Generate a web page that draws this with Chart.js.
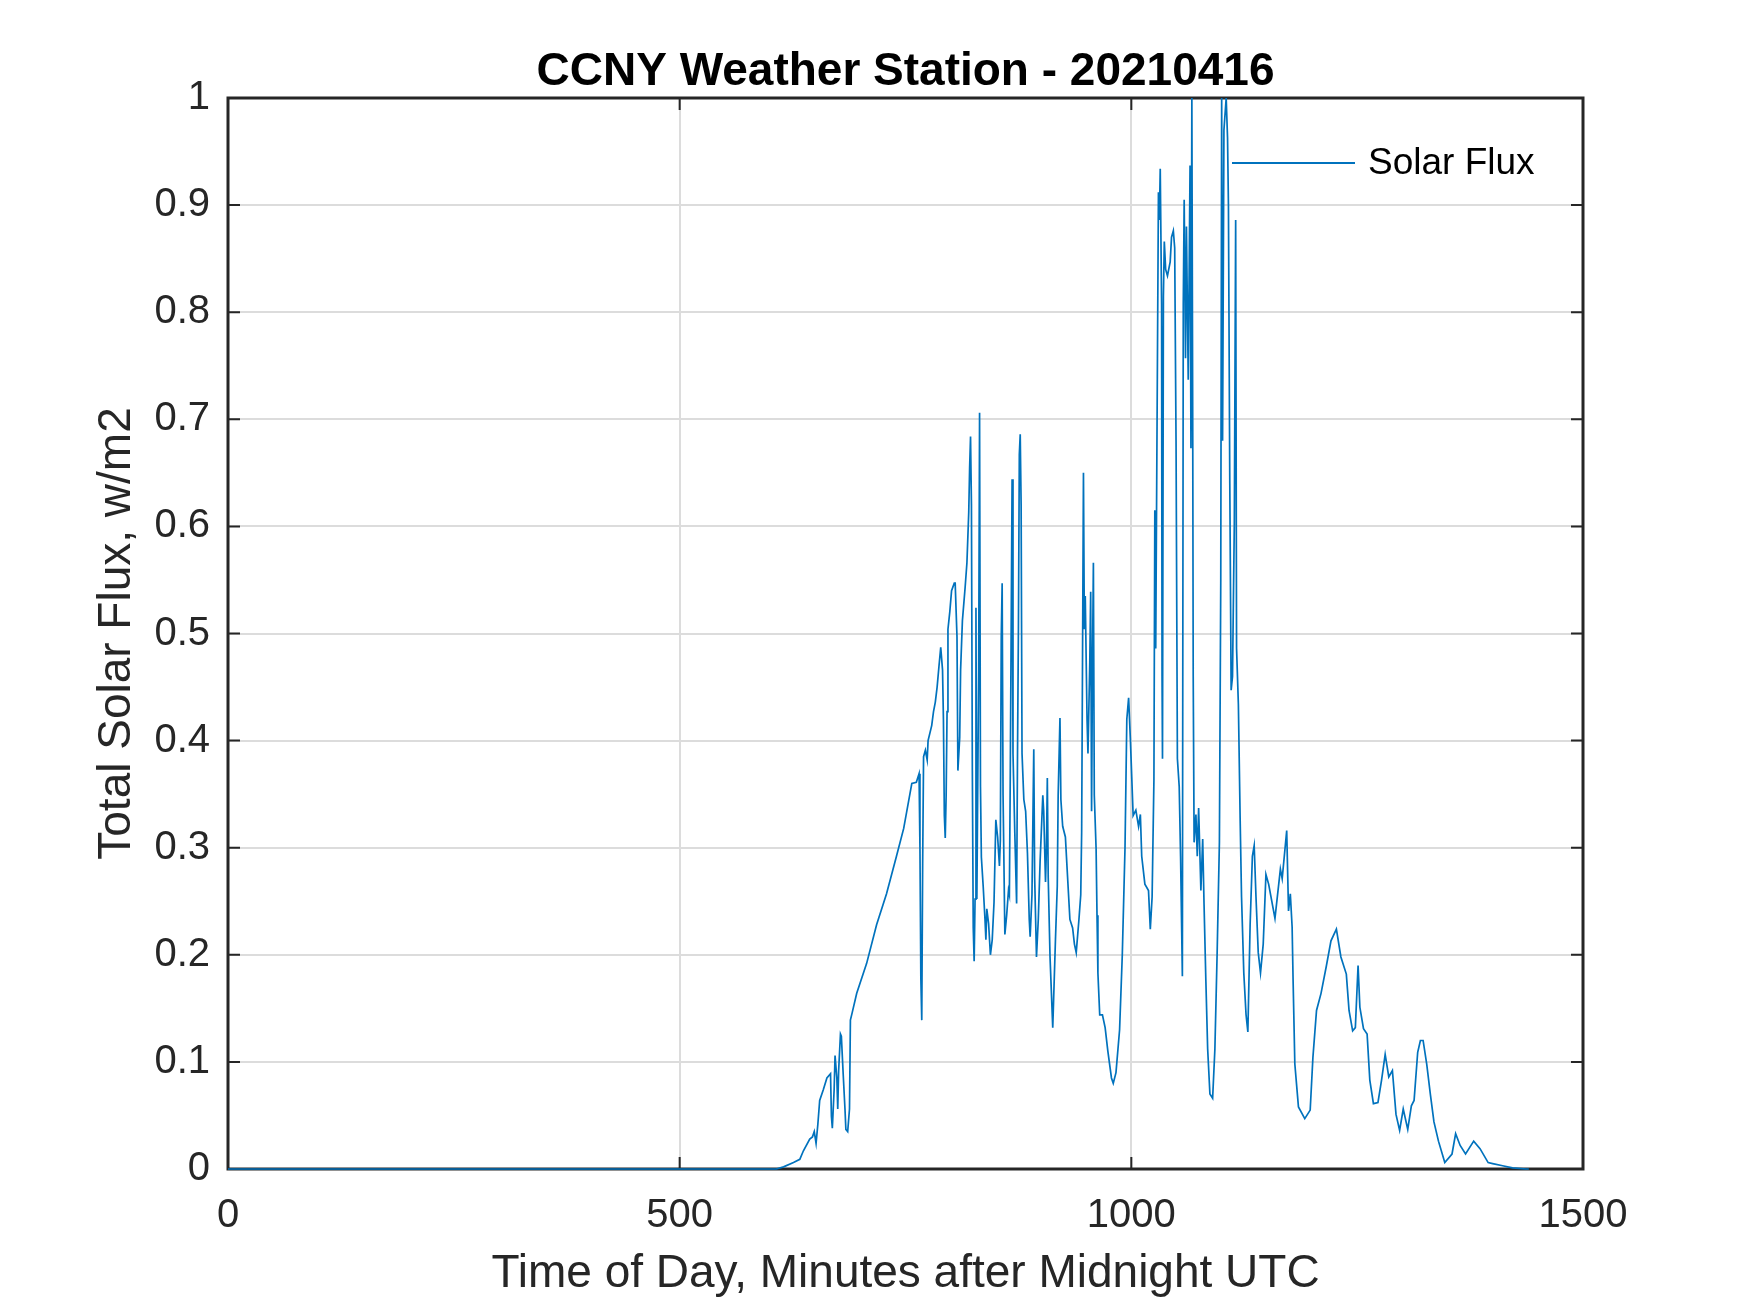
<!doctype html>
<html>

<head>
	<title>CCNY Weather Station - 20210416</title>
	<script src="https://cdn.jsdelivr.net/npm/chart.js@4.4.1/dist/chart.umd.min.js"></script>
	<style>
		body {
			margin: 0;
			background: #fff;
		}
		canvas {
			display: block;
		}
	</style>
</head>

<body>
	<canvas id="canvas" width="1750" height="1313"></canvas>
	<script>
		// values
		const minutes = [
			0, 100, 200, 300, 400, 500, 589, 607, 615, 626, 633, 637, 644, 647, 649, 651, 653, 655, 659, 663,
			667, 668, 669, 671, 672, 674, 675, 676, 678, 679, 681, 683, 684, 686, 688, 689, 691, 696, 707, 718,
			729, 740, 748, 757, 762, 765, 766, 767, 768, 769, 770, 772, 774, 775, 779, 781, 783, 785, 787, 789,
			791, 792, 793, 794, 795, 796, 797, 799, 801, 804, 805, 807, 808, 810, 811, 813, 816, 818, 820, 821,
			822, 823, 824, 825, 826, 827, 828, 829, 831, 832, 833, 834, 836, 838, 839, 840, 842, 844, 846, 848,
			850, 852, 854, 855, 856, 857, 858, 860, 862, 864, 865, 866, 868, 869, 871, 873, 874, 875, 876, 877,
			878, 879, 881, 883, 885, 887, 888, 890, 892, 893, 895, 897, 899, 902, 903, 905, 906, 907, 908, 910,
			913, 914, 916, 918, 919, 921, 922, 924, 927, 929, 932, 935, 937, 939, 942, 944, 945, 946, 947, 948,
			949, 951, 952, 954, 955, 956, 957, 958, 959, 961, 962, 963, 965, 968, 971, 974, 978, 980, 983, 987,
			990, 993, 995, 997, 999, 1002, 1005, 1008, 1010, 1011.5, 1015, 1019, 1021, 1023, 1025, 1026, 1027, 1029, 1030, 1031,
			1032, 1033.5, 1034, 1034.5, 1035.5, 1036.5, 1038, 1040, 1043, 1044.5, 1046.5, 1048, 1049.5, 1051, 1053, 1054.5, 1056.5, 1057.5, 1058.5, 1060,
			1061, 1063, 1065, 1066, 1067, 1068, 1068.5, 1069.5, 1071.5, 1073, 1074.5, 1077, 1079, 1080.5, 1082.5, 1084.5, 1087, 1090, 1092.5, 1095,
			1097.5, 1099, 1100, 1101, 1102.5, 1105, 1106.5, 1107.5, 1109, 1110.5, 1112, 1114, 1115.5, 1116.5, 1118.5, 1120.5, 1122, 1124.5, 1127, 1129,
			1131.5, 1134, 1136, 1138, 1140.5, 1143, 1146, 1149, 1152, 1159, 1165, 1167, 1172, 1174, 1176, 1178, 1179, 1181, 1185, 1192,
			1198, 1201, 1205, 1210, 1216, 1221, 1227, 1232, 1238, 1241, 1245, 1248, 1251, 1253, 1257, 1261, 1264, 1268, 1273, 1277,
			1281, 1285, 1289, 1293, 1297, 1301, 1306, 1310, 1313, 1317, 1320, 1323, 1327, 1331, 1335, 1340, 1347, 1355, 1359, 1364,
			1370, 1379, 1386, 1395, 1400, 1411, 1422, 1437, 1440
		];
		const flux = [
			0, 0, 0, 0, 0, 0, 0, 0, 0.002, 0.006, 0.009, 0.017, 0.028, 0.03, 0.035, 0.024, 0.042, 0.064, 0.074, 0.085,
			0.089, 0.049, 0.038, 0.074, 0.106, 0.085, 0.056, 0.092, 0.126, 0.124, 0.089, 0.056, 0.037, 0.035, 0.056, 0.139, 0.146, 0.164, 0.192, 0.228,
			0.257, 0.292, 0.318, 0.36, 0.361, 0.369, 0.3, 0.178, 0.139, 0.285, 0.385, 0.391, 0.382, 0.4, 0.414, 0.427, 0.436, 0.45, 0.469, 0.487,
			0.466, 0.419, 0.33, 0.309, 0.349, 0.427, 0.504, 0.52, 0.54, 0.547, 0.547, 0.497, 0.372, 0.403, 0.466, 0.512, 0.543, 0.566, 0.613, 0.655,
			0.684, 0.62, 0.372, 0.225, 0.194, 0.252, 0.524, 0.252, 0.466, 0.706, 0.357, 0.291, 0.264, 0.233, 0.214, 0.243, 0.229, 0.2, 0.214, 0.249,
			0.326, 0.31, 0.283, 0.307, 0.497, 0.547, 0.349, 0.219, 0.237, 0.26, 0.256, 0.369, 0.644, 0.388, 0.314, 0.248, 0.388, 0.504, 0.667, 0.686,
			0.62, 0.388, 0.345, 0.334, 0.295, 0.233, 0.217, 0.256, 0.392, 0.272, 0.198, 0.233, 0.287, 0.349, 0.334, 0.268, 0.299, 0.365, 0.272, 0.198,
			0.132, 0.159, 0.214, 0.264, 0.349, 0.421, 0.345, 0.32, 0.31, 0.279, 0.233, 0.225, 0.21, 0.202, 0.233, 0.256, 0.314, 0.481, 0.65, 0.504,
			0.535, 0.419, 0.388, 0.473, 0.539, 0.334, 0.473, 0.566, 0.349, 0.299, 0.237, 0.183, 0.144, 0.144, 0.132, 0.11, 0.085, 0.08, 0.09, 0.13,
			0.2, 0.3, 0.42, 0.44, 0.4, 0.33, 0.335, 0.32, 0.331, 0.292, 0.266, 0.26, 0.224, 0.254, 0.363, 0.615, 0.486, 0.77, 0.912, 0.886,
			0.934, 0.808, 0.46, 0.383, 0.815, 0.866, 0.84, 0.834, 0.847, 0.87, 0.876, 0.86, 0.68, 0.383, 0.357, 0.292, 0.18, 0.808, 0.905, 0.757,
			0.88, 0.737, 0.937, 0.673, 1.0, 0.68, 0.46, 0.305, 0.331, 0.292, 0.337, 0.26, 0.308, 0.247, 0.176, 0.112, 0.07, 0.066, 0.112, 0.202,
			0.305, 0.55, 1.0, 0.68, 0.97, 1.0, 0.963, 0.9, 0.64, 0.447, 0.46, 0.602, 0.886, 0.486, 0.434, 0.325, 0.254, 0.183, 0.144, 0.128,
			0.228, 0.292, 0.302, 0.254, 0.202, 0.183, 0.21, 0.275, 0.266, 0.234, 0.28, 0.271, 0.316, 0.241, 0.257, 0.226, 0.179, 0.098, 0.058, 0.047,
			0.055, 0.104, 0.148, 0.164, 0.19, 0.213, 0.224, 0.198, 0.182, 0.148, 0.129, 0.132, 0.19, 0.151, 0.131, 0.126, 0.083, 0.061, 0.062, 0.083,
			0.107, 0.086, 0.092, 0.051, 0.036, 0.056, 0.037, 0.059, 0.064, 0.109, 0.12, 0.12, 0.098, 0.07, 0.044, 0.026, 0.006, 0.014, 0.033, 0.022,
			0.014, 0.026, 0.019, 0.006, 0.005, 0.003, 0.001, 0, 0
		];
		const xTicks = [0, 500, 1000, 1500];
		const yTicks = [0, 0.1, 0.2, 0.3, 0.4, 0.5, 0.6, 0.7, 0.8, 0.9, 1];

		const titleText = 'CCNY Weather Station - 20210416';
		const seriesLabel = 'Solar Flux';
		const lineColor = '#0072BD';
		const axisColor = '#262626';
		const fontFamily = '"Liberation Sans", Arial, Helvetica, sans-serif';

		// MATLAB-style frame: title, box, inward ticks, legend
		const matlabFrame = {
			id: 'matlabFrame',
			beforeDatasetsDraw(chart) {
				const {ctx, chartArea: a, scales} = chart;
				ctx.save();
				ctx.strokeStyle = axisColor;
				ctx.lineWidth = 3;
				ctx.strokeRect(a.left, a.top, a.right - a.left, a.bottom - a.top);
				ctx.lineWidth = 2;
				ctx.beginPath();
				const tl = 12;
				yTicks.forEach((v) => {
					const y = scales.y.getPixelForValue(v);
					ctx.moveTo(a.left, y);
					ctx.lineTo(a.left + tl, y);
					ctx.moveTo(a.right, y);
					ctx.lineTo(a.right - tl, y);
				});
				xTicks.forEach((v) => {
					const x = scales.x.getPixelForValue(v);
					ctx.moveTo(x, a.bottom);
					ctx.lineTo(x, a.bottom - tl);
					ctx.moveTo(x, a.top);
					ctx.lineTo(x, a.top + tl);
				});
				ctx.stroke();
				ctx.restore();
			},
			afterDraw(chart) {
				const {ctx, chartArea: a} = chart;
				ctx.save();
				ctx.fillStyle = '#000';
				ctx.font = 'bold 46px ' + fontFamily;
				ctx.textAlign = 'center';
				ctx.textBaseline = 'middle';
				ctx.fillText(titleText, (a.left + a.right) / 2, 72);

				// legend
				ctx.strokeStyle = lineColor;
				ctx.lineWidth = 2;
				ctx.beginPath();
				ctx.moveTo(1232, 163);
				ctx.lineTo(1355, 163);
				ctx.stroke();
				ctx.fillStyle = '#000';
				ctx.font = '37px ' + fontFamily;
				ctx.textAlign = 'left';
				ctx.fillText(seriesLabel, 1368, 164);
				ctx.restore();
			}
		};

		window.onload = function() {
			const ctx = document.getElementById('canvas').getContext('2d');
			window.myChart = new Chart(ctx, {
				type: 'scatter',
				data: {
					datasets: [{
						label: seriesLabel,
						data: minutes.map((m, i) => ({x: m, y: flux[i]})),
						showLine: true,
						borderColor: lineColor,
						backgroundColor: lineColor,
						borderWidth: 1.7,
						pointRadius: 0,
						tension: 0,
						clip: false
					}]
				},
				options: {
					responsive: false,
					animation: false,
					devicePixelRatio: 1,
					layout: {
						padding: {left: 0, top: 98, right: 167, bottom: 0}
					},
					plugins: {
						legend: {display: false},
						tooltip: {enabled: false},
						title: {display: false}
					},
					scales: {
						x: {
							type: 'linear',
							min: 0,
							max: 1500,
							afterBuildTicks(scale) {
								scale.ticks = xTicks.map((v) => ({value: v}));
							},
							afterFit(scale) {
								scale.height = 1313 - 1169;
								scale.paddingLeft = 0;
								scale.paddingRight = 0;
							},
							grid: {
								color: '#dcdcdc',
								lineWidth: 2,
								drawTicks: false
							},
							border: {display: false},
							ticks: {
								color: axisColor,
								padding: 23,
								maxRotation: 0,
								font: {family: fontFamily, size: 40},
								callback: (v) => String(v)
							},
							title: {
								display: true,
								text: 'Time of Day, Minutes after Midnight UTC',
								color: axisColor,
								font: {family: fontFamily, size: 46},
								padding: {top: 0, bottom: 11}
							}
						},
						y: {
							type: 'linear',
							min: 0,
							max: 1,
							afterBuildTicks(scale) {
								scale.ticks = yTicks.map((v) => ({value: v}));
							},
							afterFit(scale) {
								scale.width = 228;
								scale.paddingTop = 0;
								scale.paddingBottom = 0;
							},
							grid: {
								color: '#dcdcdc',
								lineWidth: 2,
								drawTicks: false
							},
							border: {display: false},
							ticks: {
								color: axisColor,
								padding: 18,
								font: {family: fontFamily, size: 40},
								callback: (v) => String(+v.toFixed(1))
							},
							title: {
								display: true,
								text: 'Total Solar Flux, w/m2',
								color: axisColor,
								font: {family: fontFamily, size: 46},
								padding: {top: 90, bottom: 0}
							}
						}
					}
				},
				plugins: [matlabFrame]
			});
		};
	</script>
</body>

</html>
